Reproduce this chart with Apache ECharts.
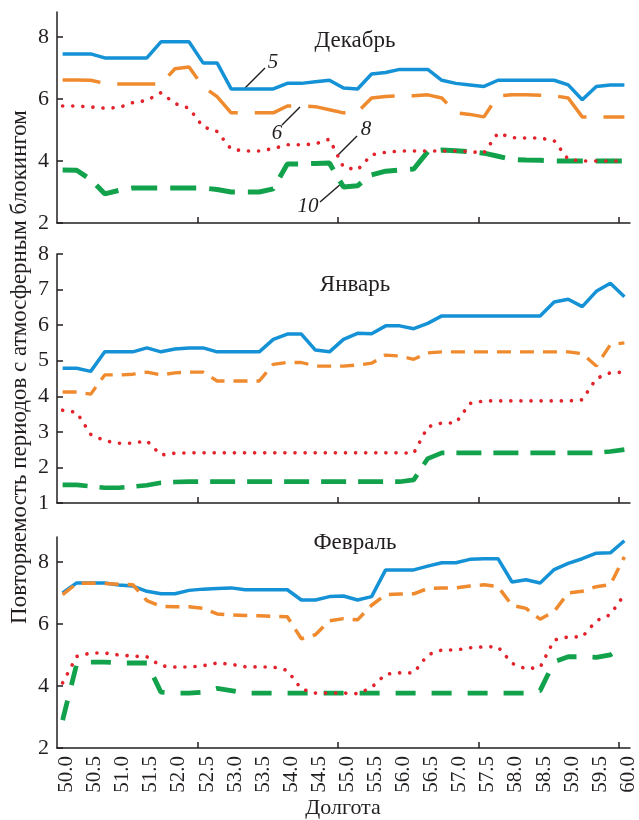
<!DOCTYPE html>
<html><head><meta charset="utf-8">
<script src="https://cdn.jsdelivr.net/npm/echarts@6/dist/echarts.min.js"></script>
<style>html,body{margin:0;padding:0;background:#fff}#c{width:639px;height:820px}</style>
</head><body><div id="c"></div>
<script>
// Longitude grid (degrees)
const lon = [50.0,50.25,50.5,50.75,51.0,51.25,51.5,51.75,52.0,52.25,52.5,52.75,53.0,53.25,53.5,53.75,54.0,54.25,54.5,54.75,55.0,55.25,55.5,55.75,56.0,56.25,56.5,56.75,57.0,57.25,57.5,57.75,58.0,58.25,58.5,58.75,59.0,59.25,59.5,59.75,60.0];
const xTickLabels = [50.0,50.5,51.0,51.5,52.0,52.5,53.0,53.5,54.0,54.5,55.0,55.5,56.0,56.5,57.0,57.5,58.0,58.5,59.0,59.5,60.0];
const months = ['Декабрь','Январь','Февраль'];
const curveNames = ['5','6','8','10'];
const yTicksDec = [2,4,6,8];
const yTicksJan = [1,2,3,4,5,6,7,8];
const yTicksFeb = [2,4,6,8];

// December
const dec5  = [7.45,7.45,7.45,7.32,7.32,7.32,7.32,7.84,7.84,7.84,7.16,7.16,6.32,6.32,6.32,6.32,6.5,6.5,6.55,6.6,6.35,6.32,6.8,6.85,6.95,6.95,6.95,6.6,6.5,6.45,6.4,6.6,6.6,6.6,6.6,6.6,6.45,5.97,6.4,6.45,6.45];
const dec6  = [6.61,6.61,6.6,6.5,6.48,6.48,6.48,6.48,6.97,7.03,6.4,6.07,5.55,5.55,5.55,5.55,5.77,5.77,5.75,5.65,5.55,5.58,6.03,6.08,6.1,6.1,6.13,6.03,5.55,5.5,5.42,6.1,6.13,6.13,6.12,6.1,6.03,5.42,5.42,5.42,5.42];
const dec8  = [5.77,5.77,5.74,5.7,5.72,5.88,5.95,6.2,5.85,5.7,5.1,4.95,4.38,4.32,4.32,4.4,4.52,4.52,4.55,4.7,3.8,3.71,4.2,4.28,4.32,4.32,4.32,4.32,4.32,4.3,4.26,4.9,4.75,4.74,4.74,4.65,4.05,4.0,4.0,4.0,4.0];
const dec10 = [3.71,3.7,3.4,2.94,3.05,3.13,3.13,3.13,3.13,3.13,3.13,3.08,3.0,3.0,3.0,3.1,3.9,3.9,3.92,3.93,3.16,3.2,3.55,3.67,3.71,3.74,4.3,4.35,4.33,4.3,4.25,4.15,4.05,4.03,4.02,4.0,4.0,4.0,4.0,4.0,4.0];
// January
const jan5  = [4.79,4.79,4.7,5.25,5.25,5.25,5.36,5.25,5.33,5.36,5.36,5.25,5.25,5.25,5.25,5.6,5.75,5.75,5.3,5.25,5.6,5.77,5.76,5.98,5.98,5.9,6.05,6.26,6.26,6.26,6.26,6.26,6.26,6.26,6.26,6.65,6.73,6.52,6.95,7.18,6.8];
const jan6  = [4.12,4.12,4.06,4.6,4.6,4.62,4.68,4.6,4.66,4.68,4.68,4.43,4.43,4.43,4.43,4.9,4.95,4.95,4.85,4.85,4.85,4.88,4.93,5.16,5.13,5.04,5.22,5.25,5.25,5.25,5.25,5.25,5.25,5.25,5.25,5.25,5.25,5.2,4.85,5.45,5.5];
const jan8  = [3.61,3.55,2.93,2.75,2.68,2.68,2.75,2.35,2.4,2.41,2.41,2.41,2.41,2.41,2.41,2.41,2.41,2.41,2.41,2.41,2.41,2.41,2.41,2.41,2.41,2.4,3.14,3.25,3.25,3.8,3.87,3.87,3.87,3.87,3.87,3.87,3.87,3.9,4.5,4.66,4.68];
const jan10 = [1.51,1.51,1.47,1.43,1.43,1.46,1.5,1.57,1.59,1.6,1.6,1.6,1.6,1.6,1.6,1.6,1.6,1.6,1.6,1.6,1.6,1.6,1.6,1.6,1.6,1.65,2.25,2.41,2.41,2.41,2.41,2.41,2.41,2.41,2.41,2.41,2.41,2.41,2.41,2.45,2.5];
// February
const feb5  = [7.0,7.32,7.32,7.32,7.25,7.22,7.05,6.97,6.97,7.08,7.12,7.14,7.16,7.1,7.1,7.1,7.1,6.77,6.77,6.88,6.9,6.77,6.88,7.74,7.74,7.74,7.86,7.97,7.97,8.08,8.1,8.1,7.35,7.42,7.32,7.75,7.95,8.1,8.28,8.29,8.68];
const feb6  = [6.94,7.3,7.32,7.3,7.28,7.26,6.75,6.57,6.55,6.55,6.5,6.32,6.29,6.27,6.26,6.24,6.23,5.52,5.65,6.1,6.17,6.13,6.6,6.94,6.96,6.97,7.14,7.16,7.16,7.22,7.26,7.2,6.6,6.5,6.15,6.4,7.0,7.05,7.2,7.26,8.16];
const feb8  = [4.1,4.95,5.06,5.06,5.0,4.96,4.94,4.65,4.61,4.61,4.65,4.74,4.7,4.62,4.61,4.61,4.5,3.9,3.77,3.77,3.77,3.75,3.95,4.38,4.42,4.42,5.0,5.16,5.16,5.23,5.26,5.26,4.73,4.55,4.6,5.48,5.58,5.58,6.1,6.3,6.94];
const feb10 = [2.9,4.7,4.77,4.77,4.74,4.74,4.74,3.8,3.77,3.77,3.8,3.92,3.85,3.77,3.77,3.77,3.77,3.77,3.77,3.77,3.77,3.77,3.77,3.77,3.77,3.77,3.77,3.77,3.77,3.77,3.77,3.77,3.77,3.77,3.85,4.78,4.94,4.94,4.92,5.0,5.3];

const SERIF = '"Liberation Serif","DejaVu Serif",serif';
const INK = '#231f20';
const C_BLUE = '#1592d6', C_ORANGE = '#ef8a2e', C_RED = '#e2232c', C_GREEN = '#12a24c';

const grids = [
  {left:57, right:9, top:12, height:211},
  {left:57, right:9, top:254, height:249},
  {left:57, right:9, top:537, height:211}
];
const yCfg = [
  {min:2, max:8.8, ticks:yTicksDec},
  {min:1, max:8, ticks:yTicksJan},
  {min:2, max:8.8, ticks:yTicksFeb}
];
const tickPos = [52.4,54.9,57.4,59.9];

const xAxes = grids.map((g,i)=>({
  gridIndex:i, type:'value', min:49.9, max:60.1,
  axisLine:{show:true, onZero:false, lineStyle:{color:INK, width:1.5}},
  axisTick:{show:true, inside:true, length:6, customValues:tickPos, lineStyle:{color:INK, width:1.5}},
  axisLabel:{show:false},
  splitLine:{show:false}
}));
// label-only axis for the bottom panel (labels sit slightly right of the data grid in the original)
xAxes.push({
  gridIndex:2, type:'value', position:'bottom', min:49.83, max:60.03,
  axisLine:{show:false}, axisTick:{show:false}, splitLine:{show:false},
  axisLabel:{show:true, customValues:xTickLabels, formatter:v=>Number(v).toFixed(1),
    rotate:90, margin:8, fontFamily:SERIF, fontSize:21, color:INK}
});
const yAxes = yCfg.map((c,i)=>({
  gridIndex:i, type:'value', min:c.min, max:c.max,
  axisLine:{show:true, onZero:false, lineStyle:{color:INK, width:1.5}},
  axisTick:{show:true, inside:true, length:6, customValues:c.ticks, lineStyle:{color:INK, width:1.5}},
  axisLabel:{show:true, customValues:c.ticks, margin:8, fontFamily:SERIF, fontSize:22, color:INK},
  splitLine:{show:false}
}));

function mk(name, vals, gi, ls, z){
  return {name, type:'line', xAxisIndex:gi, yAxisIndex:gi, symbol:'none', showSymbol:false,
    data: lon.map((x,k)=>[x, vals[k]]), lineStyle:ls, z:z, silent:true, animation:false};
}
const blueS = {color:C_BLUE, width:3.5, type:'solid'};
const redS = {color:C_RED, width:3.6, type:[0.1,10], cap:'round'};
const series = [
  mk(curveNames[0], dec5, 0, blueS, 2),
  mk(curveNames[1], dec6, 0, {color:C_ORANGE, width:3.5, type:[38,17]}, 3),
  mk(curveNames[3], dec10, 0, {color:C_GREEN, width:5, type:[26,13]}, 4),
  mk(curveNames[2], dec8, 0, redS, 5),
  mk(curveNames[0], jan5, 1, blueS, 2),
  mk(curveNames[1], jan6, 1, {color:C_ORANGE, width:3.3, type:[14,9]}, 3),
  mk(curveNames[3], jan10, 1, {color:C_GREEN, width:4.6, type:[25,12]}, 4),
  mk(curveNames[2], jan8, 1, redS, 5),
  mk(curveNames[0], feb5, 2, blueS, 2),
  mk(curveNames[1], feb6, 2, {color:C_ORANGE, width:3.5, type:[14,9]}, 3),
  mk(curveNames[3], feb10, 2, {color:C_GREEN, width:4.8, type:[20,16]}, 4),
  mk(curveNames[2], feb8, 2, redS, 5)
];

const titleTops = [24, 268, 526];
const titles = months.map((m,i)=>({text:m, left:350, top:titleTops[i], textAlign:'center',
  textStyle:{fontFamily:SERIF, fontSize:23, fontWeight:'normal', color:INK}}));

const lblFont = 'italic 21px "Liberation Serif", serif';
const graphic = [
  {type:'text', rotation:Math.PI/2, x:20, y:367, style:{text:'Повторяемость периодов с атмосферным блокингом', font:'23px "Liberation Serif", serif', fill:INK, textAlign:'center', textVerticalAlign:'middle'}},
  {type:'text', x:343, y:808, style:{text:'Долгота', font:'22px "Liberation Serif", serif', fill:INK, textAlign:'center', textVerticalAlign:'middle'}},
  {type:'text', x:273, y:62, style:{text:curveNames[0], font:lblFont, fill:INK, textAlign:'center', textVerticalAlign:'middle'}},
  {type:'line', shape:{x1:265,y1:68,x2:245,y2:88}, style:{stroke:INK, lineWidth:1.5}},
  {type:'text', x:277, y:133, style:{text:curveNames[1], font:lblFont, fill:INK, textAlign:'center', textVerticalAlign:'middle'}},
  {type:'line', shape:{x1:282,y1:125,x2:300,y2:107}, style:{stroke:INK, lineWidth:1.5}},
  {type:'text', x:366, y:129, style:{text:curveNames[2], font:lblFont, fill:INK, textAlign:'center', textVerticalAlign:'middle'}},
  {type:'line', shape:{x1:357,y1:136,x2:338,y2:155}, style:{stroke:INK, lineWidth:1.5}},
  {type:'text', x:308, y:206, style:{text:curveNames[3], font:lblFont, fill:INK, textAlign:'center', textVerticalAlign:'middle'}},
  {type:'line', shape:{x1:320,y1:202,x2:342,y2:183}, style:{stroke:INK, lineWidth:1.5}}
];

const chart = echarts.init(document.getElementById('c'), null, {renderer:'canvas'});
chart.setOption({
  backgroundColor:'#ffffff', animation:false,
  title:titles, grid:grids, xAxis:xAxes, yAxis:yAxes, series:series, graphic:graphic
});
</script></body></html>
